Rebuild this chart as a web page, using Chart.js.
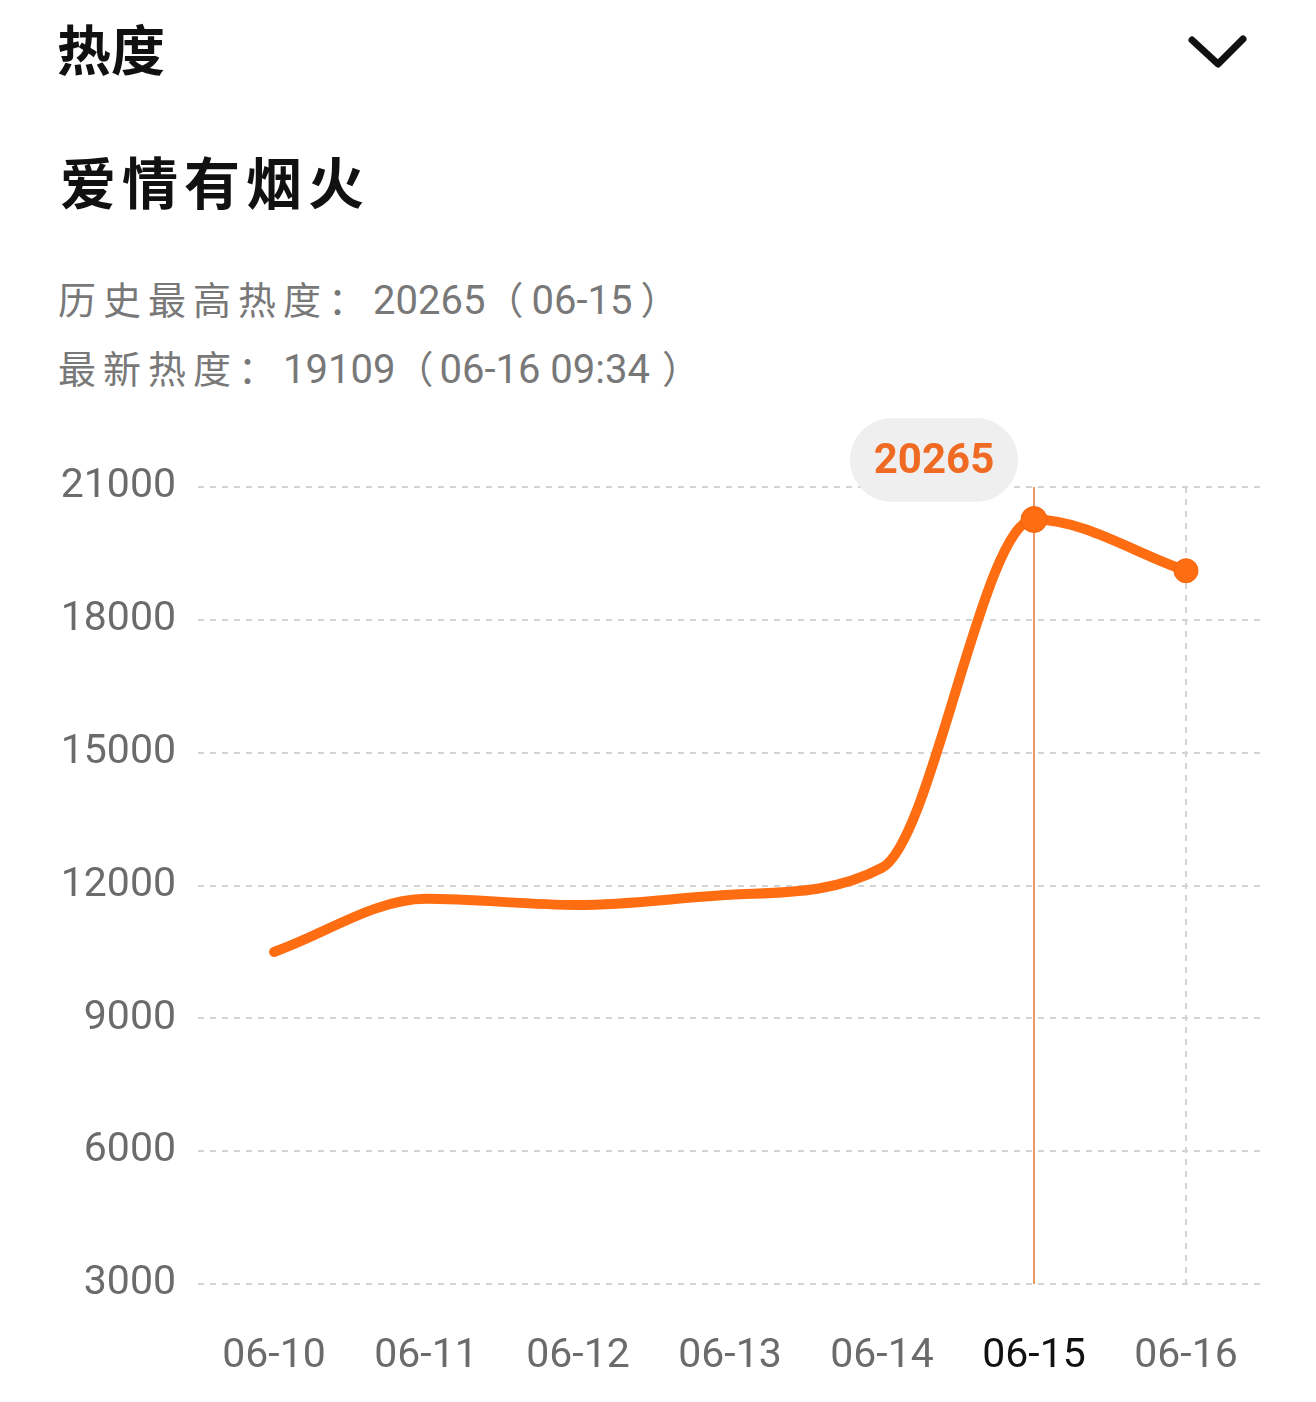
<!DOCTYPE html>
<html>
<head>
<meta charset="utf-8">
<script src="https://cdn.jsdelivr.net/npm/chart.js@4.4.1/dist/chart.umd.min.js"></script>
<style>
    html, body { margin: 0; padding: 0; background: #fff; }
    body { width: 1316px; height: 1402px; position: relative; overflow: hidden; font-family: "Noto Sans CJK SC", sans-serif; }
    .head { position: absolute; left: 57px; top: 8px; font-size: 54px; font-weight: 700; color: #111; }
    .chev { position: absolute; left: 1180px; top: 26px; }
    .title { position: absolute; left: 60px; top: 139px; font-size: 56px; font-weight: 700; color: #111; letter-spacing: 6px; }
    .info { position: absolute; left: 58px; font-size: 38px; color: #787878; letter-spacing: 7px; white-space: nowrap; }
    .info .num { font-family: Roboto, sans-serif; font-size: 40px; letter-spacing: 0; }
    .info .par { letter-spacing: 0; }
    #wrap { position: absolute; left: 0; top: 400px; width: 1316px; height: 1002px; }
</style>
</head>
<body>
<div class="head">热度</div>
<svg class="chev" width="76" height="50" viewBox="0 0 76 50">
    <polyline points="12,14 38,38 63,13" fill="none" stroke="#111" stroke-width="7" stroke-linecap="round" stroke-linejoin="round"/>
</svg>
<div class="title">爱情有烟火</div>
<div class="info" style="top: 270px;">历史最高热度：<span class="num">20265</span><span class="par">（</span><span class="num" style="margin-left: 8px;">06-15</span><span class="par" style="margin-left: 8px;">）</span></div>
<div class="info" style="top: 339px;">最新热度：<span class="num">19109</span><span class="par">（</span><span class="num" style="margin-left: 6px;">06-16 09:34</span><span class="par" style="margin-left: 12px;">）</span></div>
<div id="wrap"><canvas id="hot"></canvas></div>

<script>
const dates = ['06-10', '06-11', '06-12', '06-13', '06-14', '06-15', '06-16'];
const heat = [10500, 11700, 11560, 11790, 12400, 20265, 19109];
const dotSizes = [0, 0, 0, 0, 0, 13, 12];
const yMin = 3000;
const yMax = 21000;
const yStep = 3000;

const activeIndex = 5;
const orange = '#ff6d12';

// vertical marker line at the selected day, behind the curve
const markerLine = {
    id: 'markerLine',
    beforeDatasetsDraw(chart) {
        let x = chart.scales.x.getPixelForValue(activeIndex);
        let area = chart.chartArea;
        let ctx = chart.ctx;
        ctx.save();
        ctx.strokeStyle = '#e2782f';
        ctx.lineWidth = 1.5;
        ctx.beginPath();
        ctx.moveTo(x, area.top);
        ctx.lineTo(x, area.bottom);
        ctx.stroke();
        ctx.restore();
    }
};

// grey pill with the selected value
const valuePill = {
    id: 'valuePill',
    afterDraw(chart) {
        let x = chart.scales.x.getPixelForValue(activeIndex) - 100;
        let y = chart.chartArea.top - 27;
        let w = 168, h = 84, r = 42;
        let ctx = chart.ctx;
        ctx.save();
        ctx.fillStyle = '#efefef';
        ctx.beginPath();
        ctx.roundRect(x - w / 2, y - h / 2, w, h, r);
        ctx.fill();
        ctx.fillStyle = '#ef6a22';
        ctx.font = 'bold 42px Roboto';
        ctx.textAlign = 'center';
        ctx.textBaseline = 'middle';
        ctx.fillText(String(heat[activeIndex]), x, y + 2);
        ctx.restore();
    }
};

new Chart(document.getElementById('hot').getContext('2d'), {
    type: 'line',
    data: {
        labels: dates,
        datasets: [
            {
                data: heat,
                borderColor: orange,
                borderWidth: 10,
                borderCapStyle: 'round',
                fill: false,
                cubicInterpolationMode: 'monotone',
                pointRadius: dotSizes,
                pointBackgroundColor: orange,
                pointBorderColor: '#f26410',
                pointBorderWidth: 1,
                pointHoverRadius: dotSizes
            }
        ]
    },
    options: {
        responsive: true,
        maintainAspectRatio: false,
        animation: false,
        events: [],
        layout: { padding: { top: 87, right: 54, bottom: 0, left: 0 } },
        plugins: {
            legend: { display: false },
            tooltip: { enabled: false }
        },
        scales: {
            x: {
                offset: true,
                afterFit: (scale) => { scale.height = 118; },
                border: { display: false, dash: [6, 6] },
                grid: {
                    drawTicks: false,
                    lineWidth: 2,
                    color: (c) => c.index === 6 ? '#d4d4d4' : 'rgba(0,0,0,0)'
                },
                ticks: {
                    padding: 48,
                    font: { family: 'Roboto', size: 41 },
                    color: (c) => c.index === activeIndex ? '#111' : '#6b6b6b'
                }
            },
            y: {
                min: yMin,
                max: yMax,
                afterFit: (scale) => { scale.width = 198; },
                border: { display: false, dash: [6, 6] },
                grid: { drawTicks: false, lineWidth: 2, color: '#d4d4d4' },
                ticks: {
                    stepSize: yStep,
                    padding: 22,
                    font: { family: 'Roboto', size: 41 },
                    color: '#6b6b6b',
                    callback: (v) => String(v)
                }
            }
        }
    },
    plugins: [markerLine, valuePill]
});
</script>
</body>
</html>
